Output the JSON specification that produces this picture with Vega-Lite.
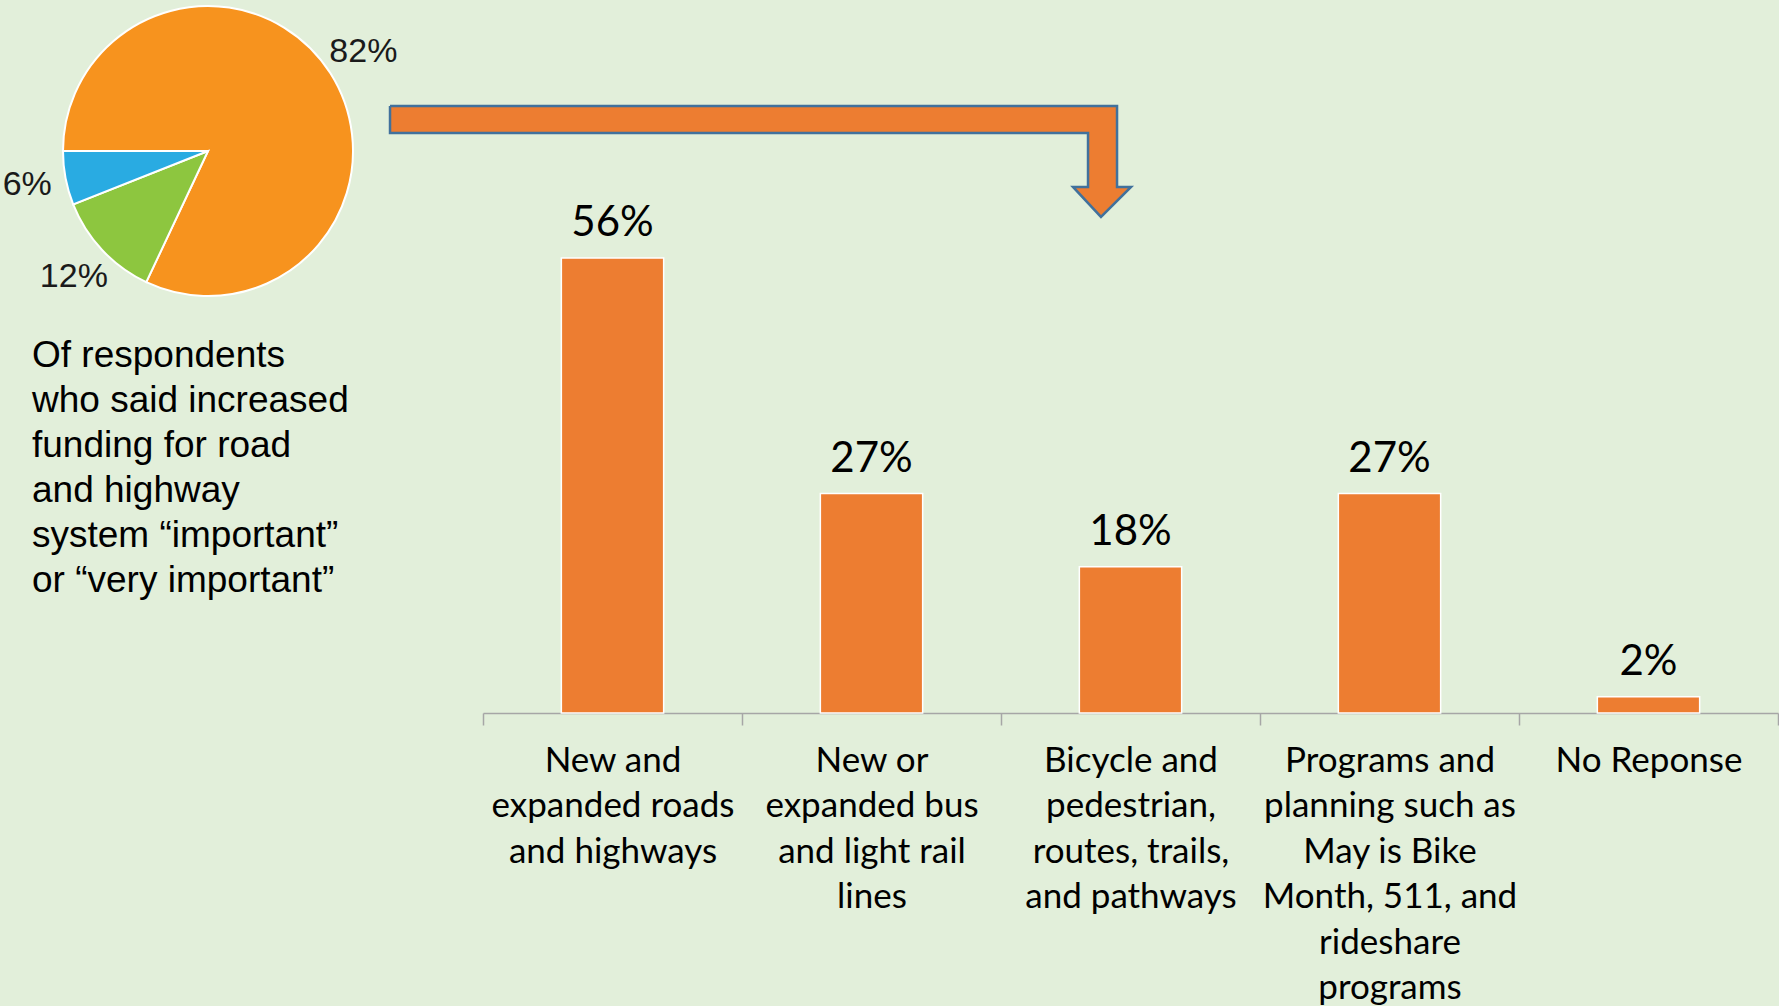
{
  "$schema": "https://vega.github.io/schema/vega-lite/v6.json",
  "background": "#E2EFDA",
  "padding": 0,
  "spacing": 67,
  "bounds": "flush",
  "config": {"view": {"stroke": null}},
  "datasets": {
    "pie": [
      {"response": "Important or very important", "share": 0.82},
      {"response": "Neutral", "share": 0.12},
      {"response": "Not important", "share": 0.06}
    ],
    "bars": [
      {"category": "New and\nexpanded roads\nand highways", "pct": 0.56},
      {"category": "New or\nexpanded bus\nand light rail\nlines", "pct": 0.27},
      {"category": "Bicycle and\npedestrian,\nroutes, trails,\nand pathways", "pct": 0.18},
      {"category": "Programs and\nplanning such as\nMay is Bike\nMonth, 511, and\nrideshare\nprograms", "pct": 0.27},
      {"category": "No Reponse", "pct": 0.02}
    ],
    "arrow": [
      {"vertex": 1, "ax": -0.359, "ay": 0.7471},
      {"vertex": 2, "ax": 2.448, "ay": 0.7471},
      {"vertex": 3, "ax": 2.448, "ay": 0.6474},
      {"vertex": 4, "ax": 2.502, "ay": 0.6474},
      {"vertex": 5, "ax": 2.386, "ay": 0.6105},
      {"vertex": 6, "ax": 2.278, "ay": 0.6474},
      {"vertex": 7, "ax": 2.336, "ay": 0.6474},
      {"vertex": 8, "ax": 2.336, "ay": 0.7138},
      {"vertex": 9, "ax": -0.359, "ay": 0.7138},
      {"vertex": 10, "ax": -0.359, "ay": 0.7471}
    ]
  },
  "hconcat": [
    {
      "width": 416,
      "height": 302,
      "data": {"name": "pie"},
      "title": {
        "text": ["Of respondents", "who said increased", "funding for road", "and highway", "system “important”", "or “very important”"],
        "orient": "bottom",
        "anchor": "start",
        "frame": "group",
        "align": "left",
        "baseline": "top",
        "dx": 32,
        "offset": 36,
        "font": "Liberation Sans",
        "fontSize": 37,
        "fontWeight": "normal",
        "lineHeight": 45,
        "color": "#000000"
      },
      "encoding": {
        "theta": {"field": "share", "type": "quantitative", "stack": true, "scale": {"range": [-1.5708, 4.7124]}},
        "order": {"field": "share", "sort": "descending"},
        "color": {
          "field": "response",
          "type": "nominal",
          "scale": {"domain": ["Important or very important", "Neutral", "Not important"], "range": ["#F7931E", "#8DC63F", "#29ABE2"]},
          "legend": null
        }
      },
      "layer": [
        {"mark": {"type": "arc", "outerRadius": 145, "stroke": "white", "strokeWidth": 2}},
        {
          "mark": {"type": "text", "radius": 184, "font": "Liberation Sans", "fontSize": 34, "align": "center", "baseline": "middle"},
          "encoding": {
            "text": {"field": "share", "type": "quantitative", "format": ".0%"},
            "color": {"value": "#1a1a1a"}
          }
        }
      ]
    },
    {
      "width": 1295,
      "height": 713,
      "layer": [
        {
          "data": {"name": "bars"},
          "encoding": {
            "x": {
              "field": "category",
              "type": "nominal",
              "sort": null,
              "scale": {"paddingInner": 0, "paddingOuter": 0},
              "axis": {
                "title": null,
                "labelExpr": "split(datum.label, '\\n')",
                "labelAngle": 0,
                "labelLimit": 0,
                "labelFont": "Lato",
                "labelFontSize": 35,
                "labelLineHeight": 45.5,
                "labelColor": "#000000",
                "labelPadding": 18,
                "labelBaseline": "top",
                "tickBand": "extent",
                "tickSize": 12,
                "tickColor": "#A6A6A6",
                "tickWidth": 1.5,
                "domainColor": "#A6A6A6",
                "domainWidth": 1.5
              }
            },
            "y": {"field": "pct", "type": "quantitative", "scale": {"domain": [0, 0.8775], "nice": false}, "axis": null}
          },
          "layer": [
            {"mark": {"type": "bar", "color": "#ED7D31", "stroke": "white", "strokeWidth": 1.5, "width": {"band": 0.395}}},
            {
              "mark": {"type": "text", "dy": -22, "baseline": "alphabetic", "font": "Lato", "fontSize": 42, "color": "#000000"},
              "encoding": {"text": {"field": "pct", "type": "quantitative", "format": ".0%"}}
            }
          ]
        },
        {
          "data": {"name": "arrow"},
          "mark": {"type": "line", "fill": "#ED7D31", "stroke": "#41719C", "strokeWidth": 2.5, "strokeJoin": "miter", "interpolate": "linear"},
          "encoding": {
            "x": {"field": "ax", "type": "quantitative", "scale": {"domain": [0, 5], "nice": false, "zero": false}, "axis": null},
            "y": {"field": "ay", "type": "quantitative"},
            "order": {"field": "vertex", "type": "quantitative"}
          }
        }
      ],
      "resolve": {"scale": {"x": "independent"}}
    }
  ]
}
